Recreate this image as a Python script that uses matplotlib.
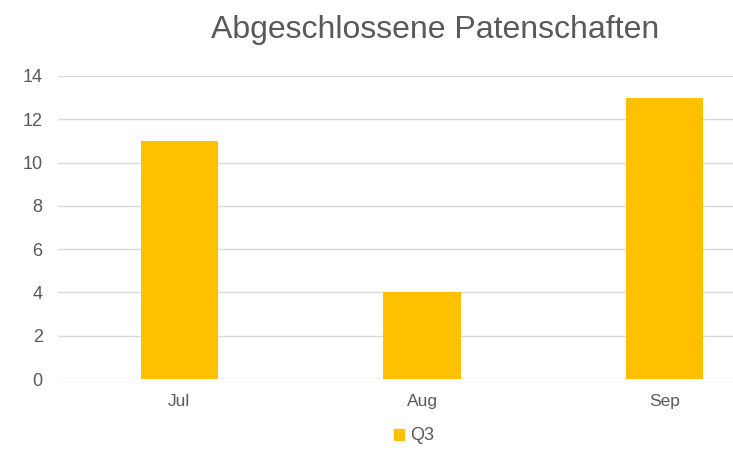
import matplotlib.pyplot as plt
from matplotlib.patches import Patch

months = ['Jul', 'Aug', 'Sep']
q3 = [11, 4, 13]
yticks = [0, 2, 4, 6, 8, 10, 12, 14]

plt.rcParams['font.family'] = ['Liberation Sans', 'DejaVu Sans']
txt = '#595959'
bar_col = '#FFC000'

fig = plt.figure(figsize=(7.33, 4.57), dpi=100)
# plot area is cropped on the right side in the original
ax = fig.add_axes([58 / 733, 1 - 379 / 457, 728 / 733, 303 / 457])

ax.bar(range(len(months)), q3, width=0.32, color=bar_col, zorder=3)
ax.set_xlim(-0.5, 2.5)
ax.set_ylim(0, 14)
ax.set_yticks(yticks)
ax.set_xticks(range(len(months)))
ax.set_xticklabels(months)
ax.grid(axis='y', color='#d9d9d9', lw=1, zorder=0)
for s in ax.spines.values():
    s.set_visible(False)
ax.tick_params(axis='y', length=0, pad=11, labelsize=13, labelcolor=txt)
ax.tick_params(axis='x', length=0, pad=11, labelsize=12.5, labelcolor=txt)

fig.text(435 / 733, 1 - 30 / 457, 'Abgeschlossene Patenschaften', ha='center', va='center',
         fontsize=23, color=txt)

fig.legend(handles=[Patch(color=bar_col, label='Q3')], loc='center',
           bbox_to_anchor=(414 / 733, 1 - 436 / 457), frameon=False,
           handlelength=0.55, handleheight=0.55, handletextpad=0.3,
           fontsize=13, labelcolor=txt)

fig.savefig('out.png', dpi=100)
